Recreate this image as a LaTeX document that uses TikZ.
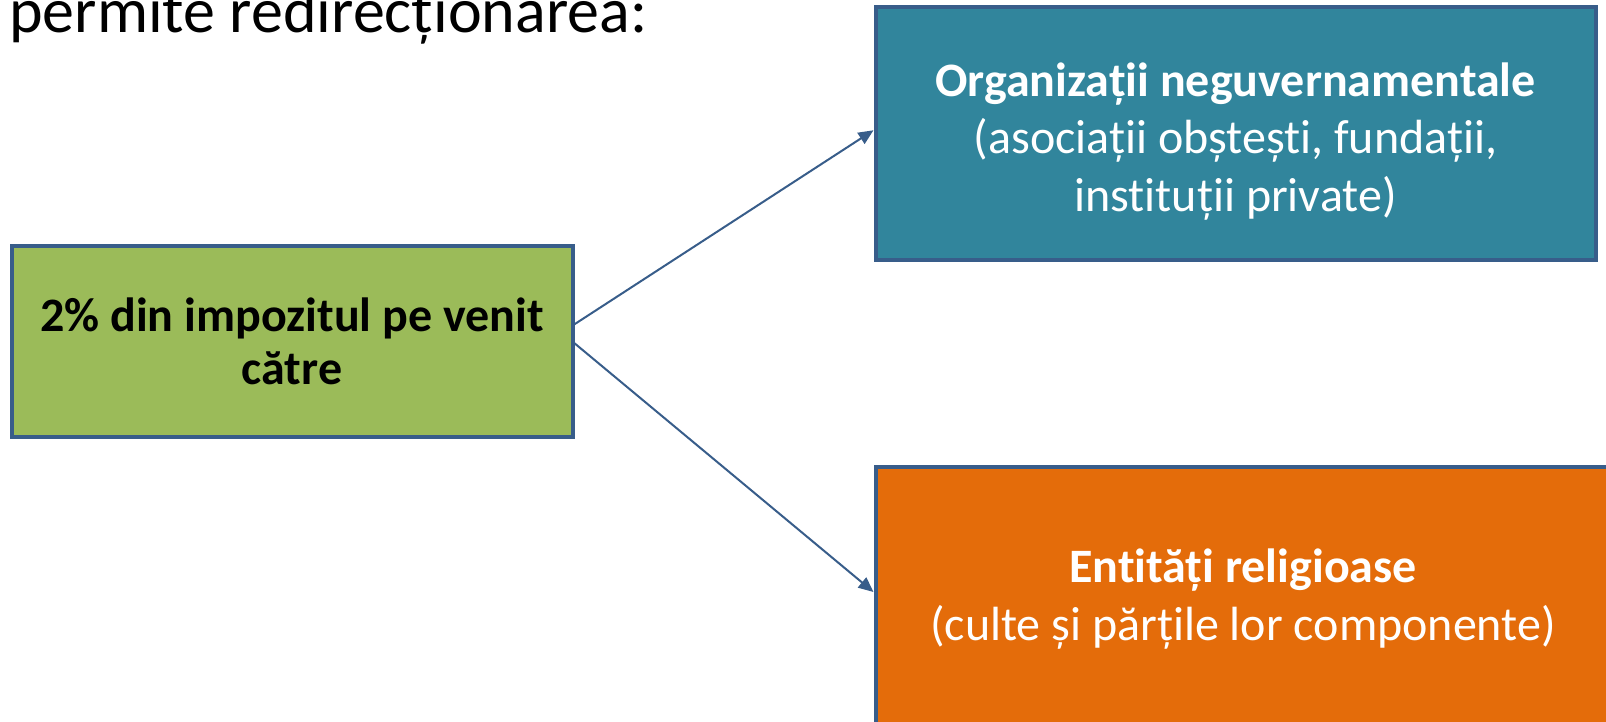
\documentclass[tikz,border=0pt]{standalone}
\usepackage{fontspec}
\setmainfont{Carlito}[Ligatures=NoCommon]
\usetikzlibrary{arrows.meta}
\definecolor{boxgreen}{HTML}{9BBB59}
\definecolor{boxteal}{HTML}{31859C}
\definecolor{boxorange}{HTML}{E46C0A}
\definecolor{edgeblue}{HTML}{385D8A}
\begin{document}
\begin{tikzpicture}[x=1pt,y=-1pt,
  box/.style={draw=edgeblue, line width=4pt, align=center, inner sep=0pt},
  boxtext/.style={align=center, inner sep=0pt, font=\fontsize{48}{57.6}\selectfont},
  conn/.style={draw=edgeblue, line width=2pt, -{Triangle[length=15pt,width=13pt]}}]
\useasboundingbox (0,0) rectangle (1606,721);
\node[anchor=base west, inner sep=0pt, font=\fontsize{64}{77}\selectfont] (title) at (9,32) {permite redirecționarea:};
\node[box, fill=boxgreen, minimum width=561pt, minimum height=191.5pt,
      font=\fontsize{48}{53}\selectfont\bfseries] (src) at (292,341.25)
      {2\% din impozitul pe venit\\către};
\node[box, fill=boxteal, minimum width=720pt, minimum height=253.5pt] (ngo) at (1235.5,133.25) {};
\node[boxtext, text=white] (ngotext) at ([yshift=-8pt]ngo.center)
      {\textbf{Organizații neguvernamentale}\\(asociații obștești, fundații,\\instituții private)};
\node[box, fill=boxorange, minimum width=735pt, minimum height=259pt] (rel) at (1243,596) {};
\node[boxtext, text=white] (reltext) at ([yshift=-3pt]rel.center)
      {\textbf{Entități religioase}\\(culte și părțile lor componente)};
\draw[conn] ([yshift=17pt]src.east) -- ([yshift=3pt]ngo.west);
\draw[conn] ([yshift=-2pt]src.east) -- ([yshift=4pt]rel.west);
\end{tikzpicture}
\end{document}
